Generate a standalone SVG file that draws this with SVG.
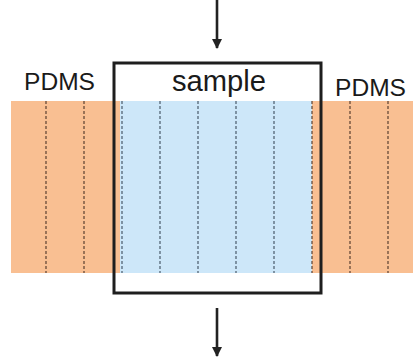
<svg xmlns="http://www.w3.org/2000/svg" width="413" height="364" viewBox="0 0 413 364">
  <style>
    .lbl { font-family: "Liberation Sans", Arial, sans-serif; fill: #1a1a1a; }
    .pdms { fill: #f9bf92; }
    .samp { fill: #cde7f9; }
    .cut-o { stroke: #5a4030; stroke-width: 1.2; stroke-dasharray: 3 2; }
    .cut-b { stroke: #4a5a6a; stroke-width: 1.2; stroke-dasharray: 3 2; }
    .frame { fill: none; stroke: #1e1e1e; stroke-width: 3; }
    .flow { stroke: #222; stroke-width: 2.6; fill: none; }
  </style>
  <defs>
    <marker id="head" viewBox="0 0 10 10" refX="9" refY="5" markerWidth="10" markerHeight="10" markerUnits="userSpaceOnUse" orient="auto">
      <path d="M0,0 L10,5 L0,10 Z" fill="#222"/>
    </marker>
  </defs>

  <g id="pdms-strip">
    <rect class="pdms" x="11" y="101" width="402" height="172"/>
    <line class="cut-o" x1="46" y1="101" x2="46" y2="273"/>
    <line class="cut-o" x1="84" y1="101" x2="84" y2="273"/>
    <line class="cut-o" x1="350" y1="101" x2="350" y2="273"/>
    <line class="cut-o" x1="388" y1="101" x2="388" y2="273"/>
  </g>

  <g id="sample-region">
    <rect class="samp" x="120" y="101" width="192" height="172"/>
    <line class="cut-b" x1="122" y1="101" x2="122" y2="273"/>
    <line class="cut-b" x1="160" y1="101" x2="160" y2="273"/>
    <line class="cut-b" x1="198" y1="101" x2="198" y2="273"/>
    <line class="cut-b" x1="236" y1="101" x2="236" y2="273"/>
    <line class="cut-b" x1="274" y1="101" x2="274" y2="273"/>
    <line class="cut-o" x1="312" y1="101" x2="312" y2="273"/>
  </g>

  <g id="sample-box">
    <rect class="frame" x="114" y="63" width="207" height="230"/>
    <text class="lbl" x="219" y="91" font-size="29.5" text-anchor="middle" textLength="94" lengthAdjust="spacingAndGlyphs">sample</text>
  </g>

  <g id="pdms-left">
    <text class="lbl" x="24" y="89.5" font-size="23" textLength="71" lengthAdjust="spacingAndGlyphs">PDMS</text>
  </g>

  <g id="pdms-right">
    <text class="lbl" x="335" y="95.5" font-size="23.5" textLength="71" lengthAdjust="spacingAndGlyphs">PDMS</text>
  </g>

  <g id="connectors">
    <line class="flow" x1="217" y1="0" x2="217" y2="48" marker-end="url(#head)"/>
    <line class="flow" x1="217" y1="308" x2="217" y2="356" marker-end="url(#head)"/>
  </g>
</svg>
